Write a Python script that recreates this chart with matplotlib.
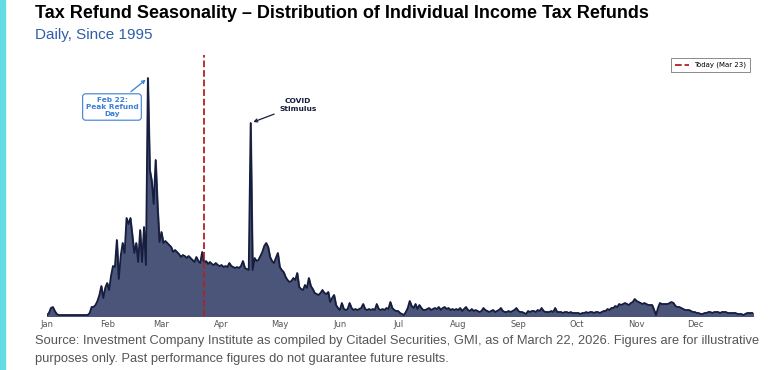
import numpy as np
import matplotlib
matplotlib.use("Agg")
import matplotlib.pyplot as plt
from matplotlib.patches import Rectangle

# daily refund index (relative units), one list per month
jan = [1, 3, 8, 9, 5, 2, 1, 1, 1, 1, 1, 1, 1, 1, 1, 1, 1, 1, 1, 1,
       1, 1, 3, 9, 9, 11, 15, 21, 30, 18, 28]
feb = [33, 26, 40, 50, 49, 76, 37, 60, 73, 63, 98, 92, 98, 80, 63, 73, 54, 86, 54, 89,
       51, 238, 146, 135, 112, 156, 110, 74]
mar = [84, 73, 75, 73, 71, 69, 64, 66, 64, 62, 59, 61, 60, 58, 60, 58, 56, 54, 59, 55,
       53, 64, 53, 55, 52, 54, 52, 51, 53, 51, 50]
apr = [51, 49, 50, 49, 53, 50, 49, 48, 49, 48, 50, 55, 48, 47, 46, 193, 46, 58, 55, 56,
       60, 64, 70, 73, 69, 59, 55, 53, 58, 63]
may = [49, 46, 44, 39, 36, 34, 35, 38, 36, 43, 29, 27, 26, 31, 28, 38, 30, 27, 23, 22,
       21, 23, 26, 23, 22, 24, 14, 18, 21, 11, 8]
jun = [6, 13, 7, 6, 7, 13, 8, 6, 7, 6, 7, 8, 12, 7, 6, 7, 6, 7, 6, 12,
       7, 6, 7, 6, 8, 7, 14, 8, 6, 5]
jul = [5, 3, 2, 1, 4, 8, 15, 10, 8, 12, 7, 11, 8, 6, 6, 7, 8, 6, 7, 8,
       7, 9, 6, 8, 9, 7, 8, 6, 7, 6, 7]
aug = [6, 8, 5, 7, 9, 6, 5, 7, 5, 6, 5, 4, 5, 8, 6, 5, 4, 5, 6, 4,
       5, 6, 8, 5, 4, 4, 5, 4, 5, 6, 8]
sep = [5, 4, 4, 3, 2, 5, 4, 5, 5, 4, 6, 5, 8, 5, 4, 4, 4, 5, 4, 8,
       4, 4, 4, 3, 4, 4, 3, 4, 3, 3]
oct_ = [3, 3, 2, 3, 3, 4, 3, 4, 4, 3, 4, 4, 3, 4, 5, 5, 7, 6, 8, 8,
        10, 9, 12, 11, 12, 13, 12, 11, 13, 14, 17]
nov = [15, 14, 13, 12, 13, 12, 11, 11, 11, 6, 1, 8, 13, 12, 12, 12, 12, 13, 14, 13,
       10, 9, 9, 8, 7, 6, 6, 6, 5, 4]
dec = [4, 3, 3, 2, 2, 3, 3, 4, 4, 3, 4, 4, 4, 3, 4, 4, 4, 3, 3, 3,
       3, 3, 2, 2, 2, 1, 2, 3, 3, 3, 3]

months = ["Jan", "Feb", "Mar", "Apr", "May", "Jun", "Jul", "Aug", "Sep", "Oct", "Nov", "Dec"]
month_start = [1, 32, 60, 91, 121, 152, 182, 213, 244, 274, 305, 335]
today_day = 82
peak_day, peak_val = 53, 238
covid_day, covid_val = 106, 193

vals = np.array(jan + feb + mar + apr + may + jun + jul + aug + sep + oct_ + nov + dec, dtype=float)
days = np.arange(1, len(vals) + 1)

fig = plt.figure(figsize=(7.68, 3.70), dpi=100)
fig.patches.append(Rectangle((0, 0), 5 / 768, 1, transform=fig.transFigure,
                             color="#62dde3", zorder=0))

fig.text(35 / 768, 1 - 14 / 370, "Tax Refund Seasonality \u2013 Distribution of Individual Income Tax Refunds",
         fontsize=13, fontweight="bold", family="Liberation Sans", va="center", ha="left")
fig.text(35 / 768, 1 - 35 / 370, "Daily, Since 1995", fontsize=11, color="#2f5ea8",
         family="Liberation Sans", va="center", ha="left")

ax = fig.add_axes([47 / 768, 54 / 370, 706 / 768, 261 / 370])
ax.fill_between(days, vals, color="#4b5579")
ax.plot(days, vals, color="#161d3d", lw=1.3)
ax.axvline(today_day, color="#b22222", ls="--", lw=1.3, label="Today (Mar 23)")

ax.set_xlim(1, 365)
ax.set_ylim(0, 261)
ax.set_yticks([])
ax.set_xticks(month_start)
ax.set_xticklabels(months, fontsize=6, color="#555555")
ax.tick_params(axis="x", length=0, pad=3)
for s in ax.spines.values():
    s.set_visible(False)

ax.annotate("Feb 22:\nPeak Refund\nDay", xy=(peak_day, peak_val), xytext=(34.5, 209),
            fontsize=5.3, fontweight="bold", color="#3b7dd8", ha="center", va="center",
            linespacing=1.25,
            bbox=dict(boxstyle="round,pad=0.4", fc="white", ec="#3b7dd8", lw=0.8),
            arrowprops=dict(arrowstyle="->", color="#3b7dd8", lw=0.9))
ax.annotate("COVID\nStimulus", xy=(covid_day, covid_val), xytext=(130.5, 211),
            fontsize=5.4, fontweight="bold", color="#161d3d", ha="center", va="center",
            linespacing=1.25,
            arrowprops=dict(arrowstyle="->", color="#161d3d", lw=0.9))

leg = ax.legend(loc="upper right", fontsize=5, frameon=True, fancybox=False,
                edgecolor="#555555", handlelength=2, borderpad=0.5)
leg.get_frame().set_linewidth(0.6)

fig.text(35 / 768, 1 - 341 / 370,
         "Source: Investment Company Institute as compiled by Citadel Securities, GMI, as of March 22, 2026. Figures are for illustrative",
         fontsize=9.3, color="#555555", family="Liberation Sans", va="center", ha="left")
fig.text(35 / 768, 1 - 359 / 370,
         "purposes only. Past performance figures do not guarantee future results.",
         fontsize=9.3, color="#555555", family="Liberation Sans", va="center", ha="left")

fig.savefig("out.png", dpi=100)
